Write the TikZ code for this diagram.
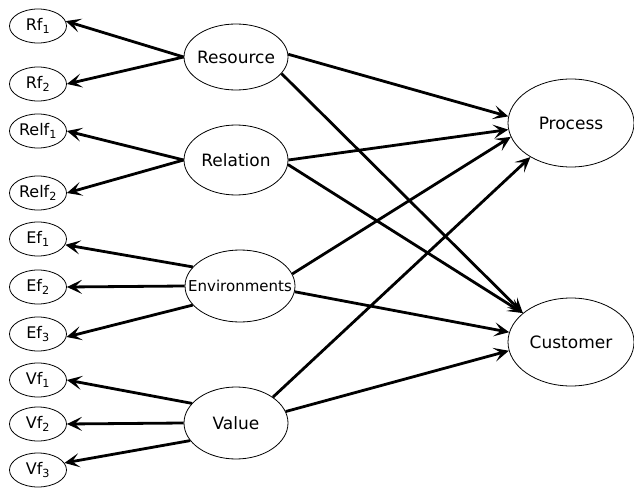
\documentclass[tikz,border=0pt]{standalone}
\usepackage{fontspec}
\setmainfont{DejaVu Sans}
\usetikzlibrary{shapes.geometric,arrows.meta}
\tikzset{
  factor/.style={ellipse,draw,line width=0.8pt,minimum width=57pt,minimum height=34pt,inner sep=0pt,font=\fontsize{16}{18}\selectfont},
  aspect/.style={ellipse,draw,line width=0.8pt,minimum width=104pt,minimum height=70pt,inner sep=0pt,inner xsep=-12pt,font=\fontsize{17}{20}\selectfont},
  outcome/.style={ellipse,draw,line width=0.8pt,minimum width=126pt,minimum height=88pt,inner sep=0pt,font=\fontsize{17}{20}\selectfont},
  link/.style={line width=2.8pt,-{Stealth[length=15pt,width=14pt,inset=7pt]}}
}
\begin{document}
\begin{tikzpicture}[x=1pt,y=-1pt]
\useasboundingbox (0,0) rectangle (634,489);
% Factors on the left
\node[factor] (rf1) at (38,26) {Rf\textsubscript{1}};
\node[factor] (rf2) at (38,84) {Rf\textsubscript{2}};
\node[factor] (relf1) at (38,131) {Relf\textsubscript{1}};
\node[factor] (relf2) at (38,193) {Relf\textsubscript{2}};
\node[factor] (ef1) at (38,239) {Ef\textsubscript{1}};
\node[factor] (ef2) at (38,287) {Ef\textsubscript{2}};
\node[factor] (ef3) at (38,334) {Ef\textsubscript{3}};
\node[factor] (vf1) at (38,380) {Vf\textsubscript{1}};
\node[factor] (vf2) at (38,424) {Vf\textsubscript{2}};
\node[factor] (vf3) at (38,470) {Vf\textsubscript{3}};
% Aspects in the middle
\node[aspect,minimum height=66pt] (res) at (236,57) {Resource};
\node[aspect] (rel) at (236,160) {Relation};
\node[aspect,minimum width=110pt,minimum height=72pt,inner xsep=-16pt,font=\fontsize{15}{18}\selectfont] (env) at (240,286) {Environments};
\node[aspect,minimum height=72pt] (val) at (236,423) {Value};
% Outcomes on the right
\node[outcome] (proc) at (571,123) {Process};
\node[outcome] (cust) at (571,342) {Customer};
% Arrows to the factors
\draw[link] (res.west) -- (rf1.10);
\draw[link] (res.west) -- (rf2.east);
\draw[link] (rel.west) -- (relf1.east);
\draw[link] (rel.west) -- (relf2.east);
\draw[link] (env.158) -- (ef1.-12);
\draw[link] (env.west) -- (ef2.east);
\draw[link] (env.202) -- (ef3.-6);
\draw[link] (val.156) -- (vf1.east);
\draw[link] (val.west) -- (vf2.east);
\draw[link] (val.201) -- (vf3.15);
% Arrows to the outcomes
\draw[link] (res.3) -- (proc.174);
\draw[link] (res.-20) -- (cust.149);
\draw[link] (rel.east) -- (proc.186);
\draw[link] (rel.-5) -- (cust.149);
\draw[link] (env.13) -- (proc.193);
\draw[link] (env.-6) -- (cust.171);
\draw[link] (val.35) -- (proc.220);
\draw[link] (val.13) -- (cust.188);
\end{tikzpicture}
\end{document}
